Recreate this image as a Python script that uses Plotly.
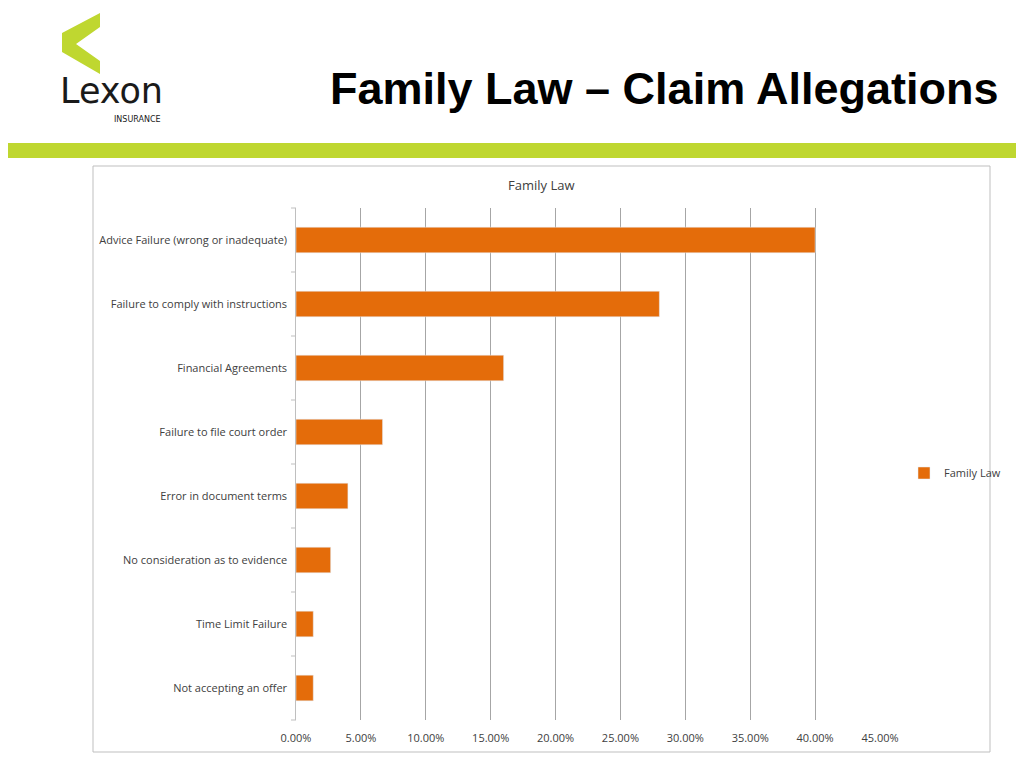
import plotly.graph_objects as go

categories = ["Advice Failure (wrong or inadequate)", "Failure to comply with instructions",
              "Financial Agreements", "Failure to file court order", "Error in document terms",
              "No consideration as to evidence", "Time Limit Failure", "Not accepting an offer"]
values = [0.40, 0.28, 0.16, 0.0667, 0.04, 0.0267, 0.0133, 0.0133]
tick_vals = [0, 0.05, 0.10, 0.15, 0.20, 0.25, 0.30, 0.35, 0.40, 0.45]

OFF = 8  # page body margin
L, R, T, B = 296 - OFF, 880 - OFF, 208 - OFF, 720 - OFF
def px(x): return (x - OFF - L) / (R - L)
def py(y): return (B - (y - OFF)) / (B - T)

fig = go.Figure(go.Bar(
    y=categories[::-1], x=values[::-1], orientation="h", name="Family Law",
    marker=dict(color="#E46C0A"), width=0.4, showlegend=True))

shapes = [
    dict(type="rect", xref="paper", yref="paper", x0=px(-10), x1=px(1040), y0=py(143), y1=py(158),
         fillcolor="#BFD730", line=dict(width=0), layer="below"),
    dict(type="rect", xref="paper", yref="paper", x0=px(93), x1=px(990), y0=py(752), y1=py(166),
         fillcolor="rgba(0,0,0,0)", line=dict(color="#BFBFBF", width=1)),
    dict(type="path", xref="paper", yref="paper",
         path="M {},{} L {},{} L {},{} L {},{} L {},{} L {},{} L {},{} Z".format(
             px(100), py(13), px(62), py(33), px(62), py(52), px(100), py(74),
             px(100), py(61), px(76), py(44), px(100), py(27)),
         fillcolor="#BFD730", line=dict(width=0)),
]
for i in range(len(categories) + 1):
    yy = 208 + i * (720 - 208) / len(categories)
    shapes.append(dict(type="line", xref="paper", yref="paper", x0=px(291), x1=px(296),
                       y0=py(yy), y1=py(yy), line=dict(color="#BFBFBF", width=1)))

annotations = [
    dict(text="<b>Family Law – Claim Allegations</b>", xref="paper", yref="paper",
         x=px(1001), y=py(88), xanchor="right", yanchor="middle", showarrow=False,
         font=dict(family="Liberation Sans, Arial", size=45, color="#000000")),
    dict(text="Lexon", xref="paper", yref="paper", x=px(58), y=py(91), xanchor="left",
         yanchor="middle", showarrow=False,
         font=dict(family="DejaVu Sans", size=35, color="#1a1a1a")),
    dict(text="INSURANCE", xref="paper", yref="paper", x=px(112), y=py(119), xanchor="left",
         yanchor="middle", showarrow=False,
         font=dict(family="DejaVu Sans", size=8, color="#1a1a1a")),
    dict(text="Family Law", xref="paper", yref="paper", x=px(541), y=py(185), xanchor="center",
         yanchor="middle", showarrow=False,
         font=dict(family="Open Sans, Calibri", size=13, color="#404040")),
]

fig.update_layout(
    width=1024, height=768, margin=dict(l=L, r=1024 - R, t=T, b=768 - B),
    paper_bgcolor="white", plot_bgcolor="white",
    font=dict(family="Open Sans, Calibri", size=11, color="#404040"),
    xaxis=dict(range=[0, 0.45], tickvals=tick_vals, tickformat=".2%", showgrid=True,
               gridcolor="#A6A6A6", gridwidth=1, zeroline=False, showline=False,
               ticklabelstandoff=10, tickfont=dict(size=11, color="#404040")),
    yaxis=dict(showline=True, linecolor="#BFBFBF", ticks="", ticksuffix="  ",
               showgrid=False, tickfont=dict(size=11, color="#404040")),
    legend=dict(x=px(904), y=py(473), xanchor="left", yanchor="middle",
                font=dict(size=11, color="#404040"), bgcolor="rgba(0,0,0,0)",
                itemwidth=30),
    shapes=shapes, annotations=annotations,
)
fig.write_html("out.html")
